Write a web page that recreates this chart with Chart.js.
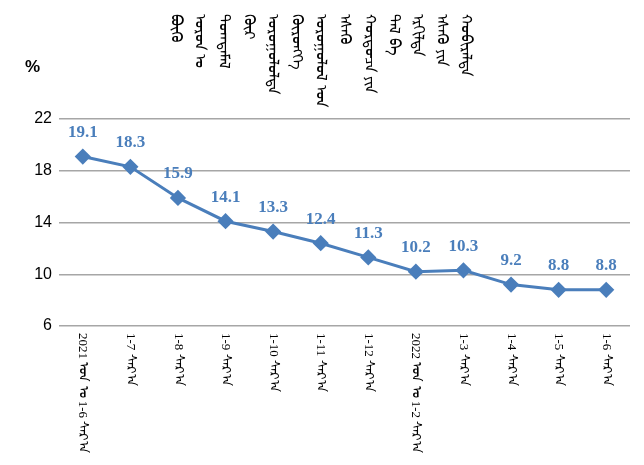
<!DOCTYPE html>
<html lang="mn">
<head>
    <meta charset="UTF-8">
    <title>Chart</title>
    <style>
        html, body { margin: 0; padding: 0; background: #fff; }
        #wrap { width: 644px; height: 465px; position: relative; }
    </style>
</head>
<body>
    <div id="wrap"><canvas id="lineChart"></canvas></div>
    <script src="https://cdn.jsdelivr.net/npm/chart.js"></script>
    <script>
        // data
        const titleColumns = ['ᠪᠦᠬᠦ', 'ᠣᠷᠣᠨ ᠤ', 'ᠲᠣᠭᠲᠠᠮᠠᠯ', 'ᠬᠥᠷ', 'ᠣᠷᠣᠭᠤᠯᠤᠯᠲᠠ', 'ᠬᠥᠷᠥᠩᠭᠡ',
            'ᠣᠷᠣᠭᠤᠯᠤᠯ ᠤᠨ', 'ᠡᠰᠡᠬᠦ', 'ᠬᠤᠷᠳᠤᠴᠠ ᠶᠢᠨ', 'ᠲᠠᠯ ᠪᠠ', 'ᠡᠷᠭᠢᠯᠲᠡ', 'ᠡᠰᠡᠬᠦ ᠶᠢᠨ', 'ᠬᠤᠪᠢᠷᠠᠯᠲᠠ'];
        const months = ['2021 ᠣᠨ ᠤ 1-6 ᠰᠠᠷ᠎ᠠ', '1-7 ᠰᠠᠷ᠎ᠠ', '1-8 ᠰᠠᠷ᠎ᠠ', '1-9 ᠰᠠᠷ᠎ᠠ', '1-10 ᠰᠠᠷ᠎ᠠ', '1-11 ᠰᠠᠷ᠎ᠠ',
            '1-12 ᠰᠠᠷ᠎ᠠ', '2022 ᠣᠨ ᠤ 1-2 ᠰᠠᠷ᠎ᠠ', '1-3 ᠰᠠᠷ᠎ᠠ', '1-4 ᠰᠠᠷ᠎ᠠ', '1-5 ᠰᠠᠷ᠎ᠠ', '1-6 ᠰᠠᠷ᠎ᠠ'];
        const growth = [19.1, 18.3, 15.9, 14.1, 13.3, 12.4, 11.3, 10.2, 10.3, 9.2, 8.8, 8.8];
        const yTicks = [6, 10, 14, 18, 22];
        const unitLabel = '%';

        const blue = '#4a7ebb';

        // vertical title + rotated month labels + value labels
        const extras = {
            id: 'extras',
            afterDraw(chart) {
                const ctx = chart.ctx;
                const xs = chart.scales.x;

                ctx.save();
                ctx.fillStyle = '#000';
                ctx.font = 'bold 17px "Liberation Sans", sans-serif';
                ctx.textAlign = 'left';
                ctx.textBaseline = 'middle';
                ctx.fillText(unitLabel, 25, 67);

                ctx.font = '15px "Liberation Serif", serif';
                titleColumns.forEach((t, i) => {
                    ctx.save();
                    ctx.translate(175 + i * 24.2, 14);
                    ctx.rotate(Math.PI / 2);
                    ctx.fillText(t, 0, 0);
                    ctx.restore();
                });

                ctx.font = '13px "Liberation Serif", serif';
                months.forEach((m, i) => {
                    ctx.save();
                    ctx.translate(xs.getPixelForValue(i), 333);
                    ctx.rotate(Math.PI / 2);
                    ctx.fillText(m, 0, 0);
                    ctx.restore();
                });

                const meta = chart.getDatasetMeta(0);
                ctx.fillStyle = blue;
                ctx.font = 'bold 17px "Liberation Serif", serif';
                ctx.textAlign = 'center';
                meta.data.forEach((pt, i) => {
                    ctx.fillText(growth[i].toFixed(1), pt.x, pt.y - 24);
                });
                ctx.restore();
            }
        };

        new Chart(document.getElementById('lineChart'), {
            type: 'line',
            data: {
                labels: months,
                datasets: [{
                    data: growth,
                    borderColor: blue,
                    backgroundColor: blue,
                    borderWidth: 3,
                    pointStyle: 'rectRot',
                    pointRadius: 6,
                    pointHoverRadius: 6,
                    tension: 0,
                    fill: false
                }]
            },
            options: {
                responsive: true,
                maintainAspectRatio: false,
                animation: false,
                events: [],
                layout: { padding: { top: 119, right: 14, left: 0, bottom: 0 } },
                plugins: {
                    legend: { display: false },
                    tooltip: { enabled: false }
                },
                scales: {
                    x: {
                        offset: true,
                        grid: { display: false },
                        border: { display: false },
                        ticks: { display: false },
                        afterFit(scale) { scale.height = 139; }
                    },
                    y: {
                        min: 6,
                        max: 22,
                        afterBuildTicks(scale) { scale.ticks = yTicks.map(v => ({ value: v })); },
                        grid: { color: '#a6a6a6', lineWidth: 1.5, drawTicks: false },
                        border: { display: false },
                        ticks: {
                            color: '#000',
                            padding: 7,
                            font: { family: '"Liberation Sans", sans-serif', size: 16 }
                        },
                        afterFit(scale) { scale.width = 59; }
                    }
                }
            },
            plugins: [extras]
        });
    </script>
</body>
</html>
